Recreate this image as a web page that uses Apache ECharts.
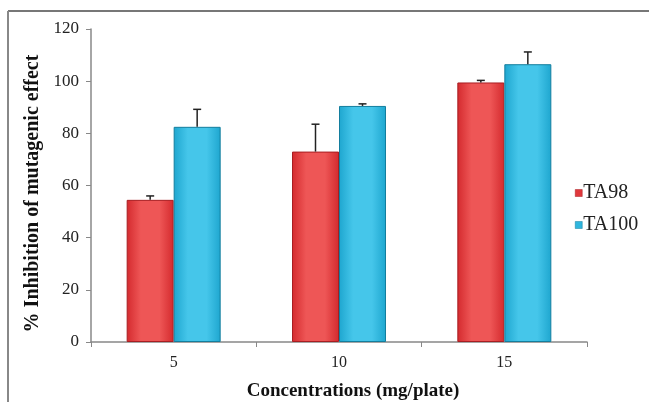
<!DOCTYPE html>
<html>
<head>
<meta charset="utf-8">
<script src="https://cdn.jsdelivr.net/npm/echarts@6/dist/echarts.min.js"></script>
<style>
  html, body { margin: 0; padding: 0; background: #fff; }
  #chart { width: 649px; height: 402px; }
</style>
</head>
<body>
<div id="chart"></div>
<script>
// values
const categories = ['5', '10', '15']
const ta98 = [54.5, 73, 99.5]
const ta98Err = [1.5, 10.5, 0.8]
const ta100 = [82.5, 90.5, 106.5]
const ta100Err = [6.7, 0.8, 4.7]

const serif = '"Liberation Serif", "DejaVu Serif", serif'
const barW = 47

function grad(edge, mid) {
  return new echarts.graphic.LinearGradient(0, 0, 1, 0, [
    { offset: 0, color: edge },
    { offset: 0.3, color: mid },
    { offset: 0.7, color: mid },
    { offset: 1, color: edge }
  ])
}

// error bar, only the upper whisker is drawn
function errBar(values, errs, offset) {
  return {
    type: 'custom',
    silent: true,
    z: 5,
    data: values.map((v, i) => [i, v, v + errs[i]]),
    renderItem(params, api) {
      const lo = api.coord([api.value(0), api.value(1)])
      const hi = api.coord([api.value(0), api.value(2)])
      const x = lo[0] + offset
      return {
        type: 'group',
        children: [
          { type: 'line', shape: { x1: x, y1: lo[1], x2: x, y2: hi[1] }, style: { stroke: '#222', lineWidth: 1.5 } },
          { type: 'line', shape: { x1: x - 4, y1: hi[1], x2: x + 4, y2: hi[1] }, style: { stroke: '#222', lineWidth: 1.5 } }
        ]
      }
    }
  }
}

const chart = echarts.init(document.getElementById('chart'))
chart.setOption({
  animation: false,
  backgroundColor: '#fff',
  graphic: [
    { type: 'line', shape: { x1: 8, y1: 11, x2: 649, y2: 11 }, style: { stroke: '#777', lineWidth: 2 } },
    { type: 'line', shape: { x1: 8, y1: 11, x2: 8, y2: 402 }, style: { stroke: '#888', lineWidth: 2 } }
  ],
  grid: { left: 91, right: 62, top: 29, bottom: 60, outerBoundsMode: 'none' },
  legend: {
    orient: 'vertical',
    left: 570,
    top: 178,
    itemWidth: 7,
    itemHeight: 7,
    itemGap: 12,
    icon: 'rect',
    textStyle: { fontFamily: serif, fontSize: 20, color: '#222', padding: [0, 0, 0, -4] },
    data: [
      { name: 'TA98', itemStyle: { color: '#e0383c', borderColor: '#a81e22', borderWidth: 0.5 } },
      { name: 'TA100', itemStyle: { color: '#2fb6de', borderColor: '#137e9e', borderWidth: 0.5 } }
    ]
  },
  xAxis: {
    type: 'category',
    data: categories,
    name: 'Concentrations (mg/plate)',
    nameLocation: 'middle',
    nameGap: 40,
    nameTextStyle: { fontFamily: serif, fontSize: 19, fontWeight: 'bold', color: '#111', padding: [0, 0, 0, 28] },
    axisLine: { lineStyle: { color: '#888', width: 1.5 } },
    axisTick: { show: true, length: 5, lineStyle: { color: '#888' } },
    axisLabel: { fontFamily: serif, fontSize: 16, color: '#222', margin: 13 }
  },
  yAxis: {
    type: 'value',
    min: 0,
    max: 120,
    interval: 20,
    name: '% Inhibition of mutagenic effect',
    nameLocation: 'middle',
    nameGap: 48,
    nameTextStyle: { fontFamily: serif, fontSize: 20, fontWeight: 'bold', color: '#111', padding: [0, 16, 0, 0] },
    axisLine: { show: true, lineStyle: { color: '#888', width: 1.5 } },
    axisTick: { show: true, length: 5, lineStyle: { color: '#888' } },
    axisLabel: { fontFamily: serif, fontSize: 17, color: '#222', margin: 12 },
    splitLine: { show: false }
  },
  series: [
    {
      name: 'TA98',
      type: 'bar',
      barWidth: barW,
      barGap: '0%',
      data: ta98,
      itemStyle: { color: grad('#d42a2e', '#ee5656'), borderColor: '#a81e22', borderWidth: 1 }
    },
    {
      name: 'TA100',
      type: 'bar',
      barWidth: barW,
      barGap: '0%',
      data: ta100,
      itemStyle: { color: grad('#1ea6cf', '#45c6ea'), borderColor: '#137e9e', borderWidth: 1 }
    },
    errBar(ta98, ta98Err, -barW / 2),
    errBar(ta100, ta100Err, barW / 2)
  ]
})
</script>
</body>
</html>
